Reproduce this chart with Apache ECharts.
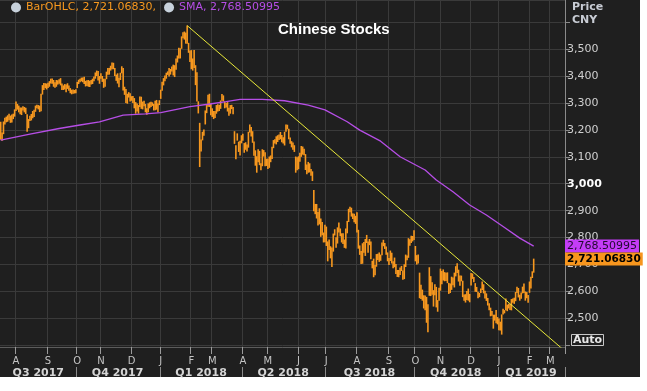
<!DOCTYPE html>
<html><head><meta charset="utf-8">
<script src="https://cdn.jsdelivr.net/npm/echarts@6/dist/echarts.min.js"></script>
<style>
html,body{margin:0;padding:0;background:#ffffff;}
#bg{position:absolute;left:0;top:0;width:640px;height:377px;background:#1f1f1f;}
#c{position:absolute;left:0;top:0;width:647px;height:391px;}
</style>
</head><body><div id="bg"></div><div id="c"></div>
<script>
// ---------- data ----------
const startDate = '2017-07-17';
const endDate = '2019-03-15';
const holidays = ['2017-10-02','2017-10-03','2017-10-04','2017-10-05','2017-10-06',
  '2018-01-01','2018-02-15','2018-02-16','2018-02-19','2018-02-20','2018-02-21',
  '2018-04-05','2018-04-06','2018-04-30','2018-05-01','2018-06-18','2018-09-24',
  '2018-10-01','2018-10-02','2018-10-03','2018-10-04','2018-10-05','2018-12-31',
  '2019-01-01','2019-02-04','2019-02-05','2019-02-06','2019-02-07','2019-02-08'];
const monthLetters = ['J','F','M','A','M','J','J','A','S','O','N','D'];

// daily highs / lows (Shanghai Composite), Jul 17 2017 .. Feb 13 2019
const highs = [
3230,3190,3231,3245,3249,3254,3260,3253,3257,3260,3276,
3305,3296,3290,3283,3283,3288,3285,3282,3258,3240,3252,3259,3270,3275,3290,3293,3292,3290,3334,3366,3374,3373,3372,
3375,3381,3390,3391,3385,3377,3385,3384,3388,3392,3372,3365,3370,3368,3373,3365,3355,3349,3350,3348,3351,
3378,3386,3390,3394,3394,3397,3382,3384,3385,3382,3385,3390,3398,3413,3420,3418,3400,
3410,3400,3390,3390,3416,3430,3430,3438,3450,3449,3430,3405,3410,3393,3412,3436,3430,3360,3352,3334,3340,3336,
3325,3326,3318,3303,3298,3292,3324,3323,3305,3308,3296,3280,3298,3302,3304,3302,3296,3308,3311,3298,3310,
3349,3379,3392,3402,3412,3417,3430,3426,3435,3442,3440,3465,3476,3505,3503,3547,3562,3565,3561,3587,3523,3495,
3496,3465,3496,3440,3414,3306,3226,3164,3193,3201,3272,3292,3330,3334,3296,
3280,3270,3270,3292,3295,3292,3309,3333,3328,3305,3300,3303,3282,3292,3293,3285,3195,3143,3187,3156,3160,3180,
3186,3151,3154,3146,3193,3220,3211,3195,3157,3124,3102,3128,3122,3076,3128,3125,3117,3093,
3093,3101,3105,3137,3162,3165,3176,3180,3183,3192,3181,3173,3193,3220,3219,3204,3172,3158,3153,3143,3101,3098,
3102,3115,3140,3138,3130,3110,3071,3081,3076,3055,3046,2977,2925,2925,2895,2909,2871,2858,2819,2848,
2841,2786,2793,2768,2763,2815,2831,2801,2838,2856,2834,2816,2816,2793,2834,2862,2907,2915,2911,2890,2889,2881,
2894,2829,2771,2750,2779,2784,2795,2810,2786,2795,2786,2714,2722,2698,2739,2740,2745,2737,2782,2792,2780,2767,2745,
2724,2752,2744,2712,2726,2702,2680,2680,2689,2695,2678,2701,2737,2734,2798,2794,2807,2806,2827,
2769,2735,2737,2670,2625,2607,2586,2585,2580,2553,2690,2657,2634,2605,2627,2617,2568,2614,
2685,2676,2682,2672,2670,2671,2632,2630,2655,2652,2670,2694,2705,2681,2659,2659,2640,2589,2590,2602,2611,2591,
2669,2667,2654,2631,2617,2599,2595,2611,2637,2627,2603,2593,2576,2556,2540,2528,2514,2514,2531,2505,
2500,2488,2515,2536,2531,2574,2551,2555,2554,2572,2574,2577,2598,2618,2613,2588,2596,2618,2630,2600,2598,2587,
2637,2655,2675,2722];
const lows = [
3163,3160,3184,3220,3228,3230,3236,3226,3227,3240,3249,
3270,3275,3265,3258,3255,3272,3265,3259,3193,3206,3233,3235,3243,3248,3267,3280,3276,3266,3269,3331,3348,3355,3350,
3355,3360,3372,3371,3360,3356,3360,3368,3371,3365,3348,3348,3350,3340,3352,3345,3336,3332,3334,3335,3336,
3355,3370,3377,3380,3377,3370,3361,3363,3360,3359,3368,3370,3380,3390,3400,3383,3371,
3390,3378,3356,3360,3388,3405,3405,3420,3425,3425,3400,3382,3372,3358,3385,3410,3346,3330,3300,3297,3320,3305,
3308,3300,3280,3260,3268,3260,3285,3278,3276,3288,3265,3256,3265,3280,3285,3289,3272,3273,3275,3265,3292,
3315,3345,3365,3380,3390,3404,3398,3405,3417,3402,3396,3423,3450,3465,3465,3501,3540,3535,3520,3520,3486,3452,
3425,3420,3430,3366,3305,3261,3062,3120,3161,3178,3220,3262,3286,3285,3254,
3248,3240,3244,3260,3268,3270,3278,3308,3306,3280,3283,3268,3252,3260,3277,3258,3148,3091,3160,3118,3105,3150,
3160,3115,3126,3120,3134,3190,3175,3152,3104,3067,3041,3080,3069,3050,3065,3101,3065,3066,
3055,3059,3080,3092,3132,3149,3146,3155,3162,3165,3154,3149,3142,3193,3202,3165,3148,3135,3126,3118,3041,3050,
3054,3082,3100,3108,3106,3051,3035,3041,3042,3030,3010,2898,2887,2871,2845,2849,2803,2809,2782,2783,
2769,2712,2754,2723,2691,2748,2808,2762,2778,2819,2805,2782,2776,2762,2760,2816,2858,2894,2878,2869,2857,2851,
2819,2759,2736,2702,2703,2744,2732,2780,2744,2772,2720,2686,2653,2660,2692,2717,2710,2714,2735,2768,2758,2736,2712,
2698,2713,2704,2686,2690,2665,2654,2653,2661,2676,2644,2646,2691,2716,2725,2770,2780,2786,2791,
2712,2700,2704,2575,2572,2566,2537,2530,2484,2449,2584,2583,2588,2544,2586,2541,2525,2566,
2603,2627,2641,2638,2639,2631,2591,2594,2606,2623,2615,2656,2669,2637,2621,2638,2579,2566,2559,2568,2566,2560,
2622,2647,2634,2599,2598,2575,2579,2594,2606,2593,2574,2565,2548,2530,2508,2510,2462,2492,2482,2478,
2456,2455,2440,2515,2519,2530,2527,2537,2531,2530,2558,2554,2564,2594,2578,2566,2573,2593,2594,2566,2575,2558,
2595,2611,2650,2670];

const smaDates = ['2017-07-17','2017-08-15','2017-09-13','2017-10-11','2017-10-31','2017-11-23','2017-12-15',
  '2018-01-02','2018-01-31','2018-02-26','2018-03-15','2018-03-29','2018-04-24','2018-05-18','2018-06-12',
  '2018-06-29','2018-07-23','2018-08-03','2018-08-24','2018-09-13','2018-10-17','2018-10-29','2018-11-14',
  '2018-11-30','2018-12-18','2019-01-07','2019-01-23','2019-02-13'];
const smaValues = [3162,3184,3205,3218,3230,3255,3259,3264,3286,3295,3305,3313,3313,3308,3292,
  3274,3230,3199,3158,3100,3051,3014,2970,2921,2884,2841,2798,2768.50995];

const trendDates = ['2018-01-29','2019-03-15'];
const trendValues = [3587, 2381];

const lastClose = 2721.06830, lastCloseText = '2,721.06830';
const lastSma = 2768.50995, lastSmaText = '2,768.50995';
const yTickValues = [2500,2600,2700,2800,2900,3000,3100,3200,3300,3400,3500];

// ---------- categories (trading days) ----------
function buildDates(){
  const out = [];
  let t = Date.parse(startDate + 'T00:00:00Z');
  const end = Date.parse(endDate + 'T00:00:00Z');
  while (t <= end) {
    const d = new Date(t);
    const w = d.getUTCDay();
    const s = d.toISOString().slice(0,10);
    if (w !== 0 && w !== 6 && holidays.indexOf(s) < 0) out.push(s);
    t += 86400000;
  }
  return out;
}
const dates = buildDates();
const isMonthStart = (i) => i > 0 && dates[i].slice(0,7) !== dates[i-1].slice(0,7);
const isQuarterStart = (i) => isMonthStart(i) && ((+dates[i].slice(5,7)) - 1) % 3 === 0;
const qKey = (s) => 'Q' + (Math.floor((+s.slice(5,7) - 1) / 3) + 1) + ' ' + s.slice(0,4);
const quarterMid = {};
(function(){
  const first = {}, last = {};
  dates.forEach((d,i) => { const k = qKey(d); if (!(k in first)) first[k] = i; last[k] = i; });
  Object.keys(first).forEach(k => { quarterMid[Math.floor((first[k] + last[k]) / 2)] = k; });
})();

const barData = highs.map((h,i) => [i, lows[i], h]);
const smaData = smaDates.map((d,i) => [d, smaValues[i]]);
const trendData = trendDates.map((d,i) => [d, trendValues[i]]);

const ORANGE = '#f7981f', PURPLE = '#b64ee6', YELLOW = '#e9e93a', GRID = '#3a3a3a';

const tagLabel = (text, bg, fg, bold, size) => ({
  show: true, position: 'end', distance: 0, formatter: text, backgroundColor: bg, color: fg,
  fontSize: size, fontWeight: bold ? 'bold' : 'normal', lineHeight: 13, padding: [0, 2],
  fontFamily: 'DejaVu Sans'
});

const chart = echarts.init(document.getElementById('c'), null, {renderer:'canvas'});
chart.setOption({
  animation: false,
  backgroundColor: 'transparent',
  textStyle: {fontFamily: 'DejaVu Sans'},
  title: [
    {text: 'Chinese Stocks', left: 278, top: 22, padding: 0,
     textStyle: {color: '#ffffff', fontFamily: 'Liberation Sans', fontWeight: 'bold', fontSize: 15}},
    {text: 'Price\nCNY', left: 572, top: 1, padding: 0,
     textStyle: {color: '#c8ccd4', fontFamily: 'DejaVu Sans', fontWeight: 'bold', fontSize: 11, lineHeight: 13}},
    {text: 'Auto', left: 571, top: 334, padding: [0, 2], borderColor: '#c8c8c8', borderWidth: 1,
     textStyle: {color: '#e8e8e8', fontFamily: 'DejaVu Sans', fontWeight: 'bold', fontSize: 11, lineHeight: 12}}
  ],
  legend: {
    left: 11, top: 2, padding: 0, itemGap: 8, itemWidth: 10, itemHeight: 10, icon: 'circle',
    selectedMode: false,
    data: [
      {name: 'BarOHLC', itemStyle: {color: '#c8d2dc'}, textStyle: {color: ORANGE}},
      {name: 'SMA', itemStyle: {color: '#c8d2dc'}, textStyle: {color: PURPLE}}
    ],
    formatter: n => n === 'BarOHLC' ? 'BarOHLC, ' + lastCloseText + ',' : 'SMA, ' + lastSmaText,
    textStyle: {fontSize: 11, fontFamily: 'DejaVu Sans'}
  },
  grid: {left: 0, right: 82, top: 0, bottom: 44},
  xAxis: [
    {type: 'category', data: dates, boundaryGap: true,
     axisLine: {show: true, lineStyle: {color: '#5c5c5c'}},
     axisTick: {show: true, interval: (i) => isMonthStart(i), length: 7, lineStyle: {color: '#9a9a9a'}},
     axisLabel: {interval: (i) => isMonthStart(i), formatter: v => monthLetters[+v.slice(5,7) - 1],
                 color: '#c4c4c4', fontSize: 10, margin: 9, fontFamily: 'DejaVu Sans'},
     splitLine: {show: true, interval: (i) => isMonthStart(i), lineStyle: {color: GRID, width: 1}}},
    {type: 'category', data: dates, boundaryGap: true, position: 'bottom', offset: 20,
     axisLine: {show: false},
     axisTick: {show: true, interval: (i) => isQuarterStart(i), length: 10, lineStyle: {color: '#8a8a8a'}},
     axisLabel: {interval: (i) => (i in quarterMid), formatter: (v) => qKey(v), color: '#d4d4d4',
                 fontSize: 11, fontWeight: 'bold', margin: 1, fontFamily: 'DejaVu Sans'},
     splitLine: {show: false}}
  ],
  yAxis: {
    type: 'value', position: 'right', min: 2394, max: 3682, minInterval: 100, maxInterval: 100,
    axisLine: {show: true, lineStyle: {color: '#8a8a8a'}},
    axisTick: {show: true, length: 5, lineStyle: {color: '#8a8a8a'}},
    axisLabel: {show: true, margin: 2, fontSize: 11, color: '#cfcfcf', fontFamily: 'DejaVu Sans',
      showMinLabel: false, showMaxLabel: false,
      formatter: v => yTickValues.indexOf(v) < 0 ? '' : (v === 3000 ? '{b|3,000}' : v.toLocaleString('en-US')),
      rich: {b: {fontWeight: 'bold', color: '#ffffff', fontSize: 11, fontFamily: 'DejaVu Sans'}}},
    splitLine: {show: true, lineStyle: {color: GRID, width: 1}}
  },
  series: [
    {name: 'BarOHLC', type: 'custom', xAxisIndex: 0, data: barData, encode: {x: 0, y: [1, 2]},
     clip: true, silent: true, itemStyle: {color: ORANGE},
     renderItem: (params, api) => {
       const a = api.coord([api.value(0), api.value(1)]);
       const b = api.coord([api.value(0), api.value(2)]);
       return {type: 'line', shape: {x1: a[0], y1: a[1], x2: b[0], y2: b[1]},
               style: {stroke: ORANGE, lineWidth: 1.6}};
     }},
    {name: 'SMA', type: 'line', xAxisIndex: 0, data: smaData, showSymbol: false, symbol: 'none', clip: false,
     lineStyle: {color: PURPLE, width: 1.3}, itemStyle: {color: PURPLE}, silent: true, z: 4,
     markLine: {silent: true, symbol: ['none', 'none'], animation: false, precision: 5,
       lineStyle: {color: 'rgba(0,0,0,0)', width: 1, type: 'solid'},
       label: {show: true, position: 'end', distance: 0},
       data: [
         {yAxis: lastSma, label: tagLabel(lastSmaText, '#c43cf7', '#220a30', false, 11)},
         {yAxis: lastClose, label: tagLabel(lastCloseText, '#f7961e', '#000000', true, 10.5)}
       ]
     }},
    {name: 'Trend', type: 'line', xAxisIndex: 0, data: trendData, symbol: 'none', silent: true,
     lineStyle: {color: YELLOW, width: 1}, z: 5}
  ]
});
</script></body></html>
